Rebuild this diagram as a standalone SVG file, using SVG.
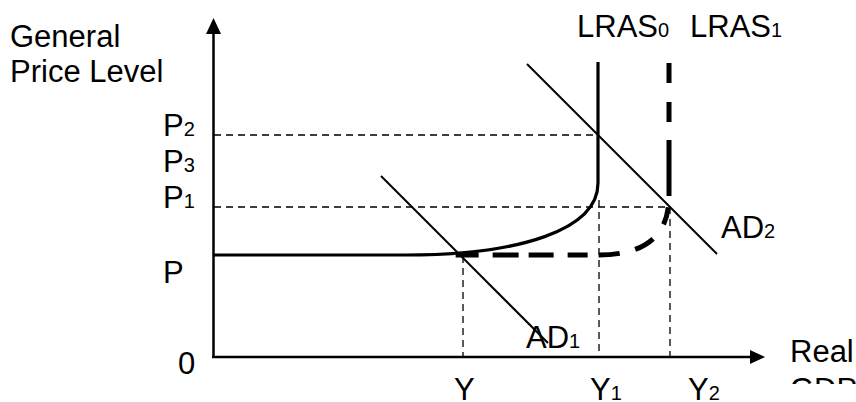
<svg xmlns="http://www.w3.org/2000/svg" width="856" height="402" viewBox="0 0 856 402">
<style>
text{font-family:"Liberation Sans",Arial,sans-serif;font-size:31px;fill:#000}
.sub{font-size:20px}
.ax{stroke:#000;stroke-width:2.5;fill:none}
.thin{stroke:#000;stroke-width:1.3;stroke-dasharray:7 5;fill:none}
.ad{stroke:#000;stroke-width:2;fill:none}
.solid{stroke:#000;stroke-width:3.2;fill:none}
.thick{stroke:#000;stroke-width:5;fill:none;stroke-dasharray:20 19 20 18 56 11 18 18 21 16 21 11 20 14 25 10 26 14 23 400}
</style>
<defs>
<clipPath id="gdpclip"><rect x="780" y="370" width="76" height="14"/></clipPath>
</defs>
<rect width="856" height="402" fill="#fff"/>
<g id="connectors">
<g id="guides">
<path class="thin" d="M214,135 H598"/>
<path class="thin" d="M214,207 H669"/>
<path class="thin" d="M463,256 V357"/>
<path class="thin" d="M599,200 V357"/>
<path class="thin" d="M670,207 V357"/>
</g>
<g id="axes">
<path class="ax" d="M213.5,357 V33"/>
<polygon points="206,34 213.5,18 221,34" fill="#000"/>
<path class="ax" d="M212,357 H751"/>
<polygon points="750,350 765,357 750,364" fill="#000"/>
</g>
<path id="ad1" class="ad" d="M381,176 L548,343"/>
<path id="ad2" class="ad" d="M527,64 L717,254"/>
<path id="lras0" class="solid" d="M214,255 H405 C520,255 598,230 598,183 V62"/>
<path id="lras1" class="thick" d="M669,63 V196 C669,240 640,255 598,255 H455"/>
</g>
<g id="labels">
<text x="10" y="47">General</text>
<text x="10" y="82">Price Level</text>
<text x="577" y="37">LRAS<tspan class="sub">0</tspan></text>
<text x="690" y="37">LRAS<tspan class="sub">1</tspan></text>
<text x="163" y="136">P<tspan class="sub">2</tspan></text>
<text x="163" y="172">P<tspan class="sub">3</tspan></text>
<text x="163" y="208">P<tspan class="sub">1</tspan></text>
<text x="163" y="283">P</text>
<text x="178" y="374">0</text>
<text x="454" y="400">Y</text>
<text x="590" y="400">Y<tspan class="sub">1</tspan></text>
<text x="688" y="400">Y<tspan class="sub">2</tspan></text>
<text x="526" y="348">AD<tspan class="sub">1</tspan></text>
<text x="721" y="238">AD<tspan class="sub">2</tspan></text>
<text x="790" y="362">Real</text>
<text x="790" y="400" clip-path="url(#gdpclip)">GDP</text>
</g>
</svg>
